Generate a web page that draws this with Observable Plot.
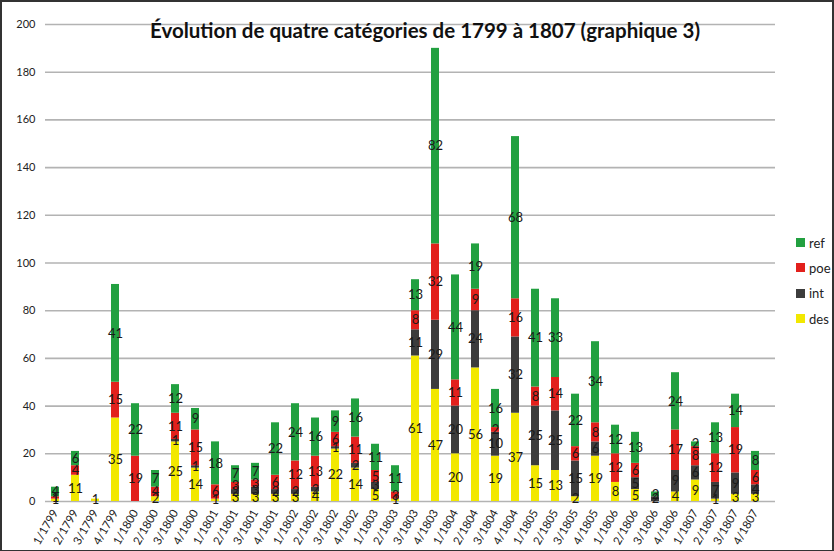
<!DOCTYPE html>
<html>
<head>
<meta charset="utf-8">
<script src="https://cdn.jsdelivr.net/npm/d3@7"></script>
<script src="https://cdn.jsdelivr.net/npm/@observablehq/plot@0.6"></script>
<style>
  body { margin: 0; background: #fff; }
  #wrap { position: relative; width: 834px; height: 551px; overflow: hidden; background: #fff; font-family: Lato, "Open Sans", sans-serif; }
  #title { position: absolute; left: 0; width: 850px; top: 18px; text-align: center; font-weight: bold; font-size: 20.5px; color: #111; }
  #legend { position: absolute; left: 796px; top: 230px; font-size: 13px; color: #222; }
  .item { display: flex; align-items: center; height: 25.3px; }
  .sw { width: 9px; height: 9px; margin-right: 4px; }
  #frame { position: absolute; inset: 0; border: 2px solid #333; border-bottom-width: 1px; pointer-events: none; }
</style>
</head>
<body>
<div id="wrap">
  <div id="chart"></div>
  <div id="title">Évolution de quatre catégories de 1799 à 1807 (graphique 3)</div>
  <div id="legend"></div>
  <div id="frame"></div>
</div>
<script>
const periods = ["1/1799","2/1799","3/1799","4/1799","1/1800","2/1800","3/1800","4/1800",
  "1/1801","2/1801","3/1801","4/1801","1/1802","2/1802","3/1802","4/1802",
  "1/1803","2/1803","3/1803","4/1803","1/1804","2/1804","3/1804","4/1804",
  "1/1805","2/1805","3/1805","4/1805","1/1806","2/1806","3/1806","4/1806",
  "1/1807","2/1807","3/1807","4/1807"];
const des = [1,11,1,35,0,2,25,14,1,3,3,3,3,4,22,14,5,1,61,47,20,56,19,37,15,13,2,19,8,5,0,4,9,1,3,3];
const int = [0,0,0,0,0,0,1,1,0,2,3,2,2,2,1,2,3,0,11,29,20,24,10,32,25,25,15,6,0,5,2,9,6,7,9,4];
const poe = [1,4,0,15,19,4,11,15,6,3,3,6,12,13,6,11,5,3,8,32,11,9,2,16,8,14,6,8,12,6,0,17,8,12,19,6];
const ref = [4,6,0,41,22,7,12,9,18,7,7,22,24,16,9,16,11,11,13,82,44,19,16,68,41,33,22,34,12,13,2,24,2,13,14,8];
const seriesNames = ["des","int","poe","ref"];
const seriesColors = ["#f2e800","#3c3c3c","#e2201c","#22a040"];
const yTicks = [0,20,40,60,80,100,120,140,160,180,200];

const seriesValues = {des, int, poe, ref};
const data = [];
periods.forEach((p, i) => {
  seriesNames.forEach(s => data.push({period: p, series: s, value: seriesValues[s][i]}));
});

const chart = Plot.plot({
  width: 834,
  height: 551,
  marginLeft: 45,
  marginRight: 59,
  marginTop: 24,
  marginBottom: 50,
  style: {fontFamily: "Lato, 'Open Sans', sans-serif", fontSize: "11px", color: "#222", background: "transparent"},
  x: {domain: periods, paddingInner: 0.6, paddingOuter: 0.525, align: 0.29, label: null},
  y: {domain: [0, 200], label: null},
  color: {domain: seriesNames, range: seriesColors},
  marks: [
    Plot.ruleY(yTicks, {stroke: "#b3b3b3", strokeWidth: 1.6}),
    Plot.axisY({ticks: yTicks, tickSize: 0, tickPadding: 10, label: null, fontSize: 11}),
    Plot.axisX({tickSize: 0, tickRotate: -60, tickPadding: 9, label: null, fontSize: 11.5}),
    Plot.barY(data, {x: "period", y: "value", fill: "series", order: seriesNames}),
    Plot.text(data, Plot.stackY({
      x: "period", y: "value", z: "series", order: seriesNames,
      text: "value", filter: d => d.value > 0,
      fill: "#1a1a1a", fontSize: 13
    }))
  ]
});
document.getElementById("chart").appendChild(chart);

const legend = document.getElementById("legend");
[...seriesNames].reverse().forEach(s => {
  const it = document.createElement("div");
  it.className = "item";
  const sw = document.createElement("div");
  sw.className = "sw";
  sw.style.background = seriesColors[seriesNames.indexOf(s)];
  const tx = document.createElement("span");
  tx.textContent = s;
  it.appendChild(sw);
  it.appendChild(tx);
  legend.appendChild(it);
});
</script>
</body>
</html>
